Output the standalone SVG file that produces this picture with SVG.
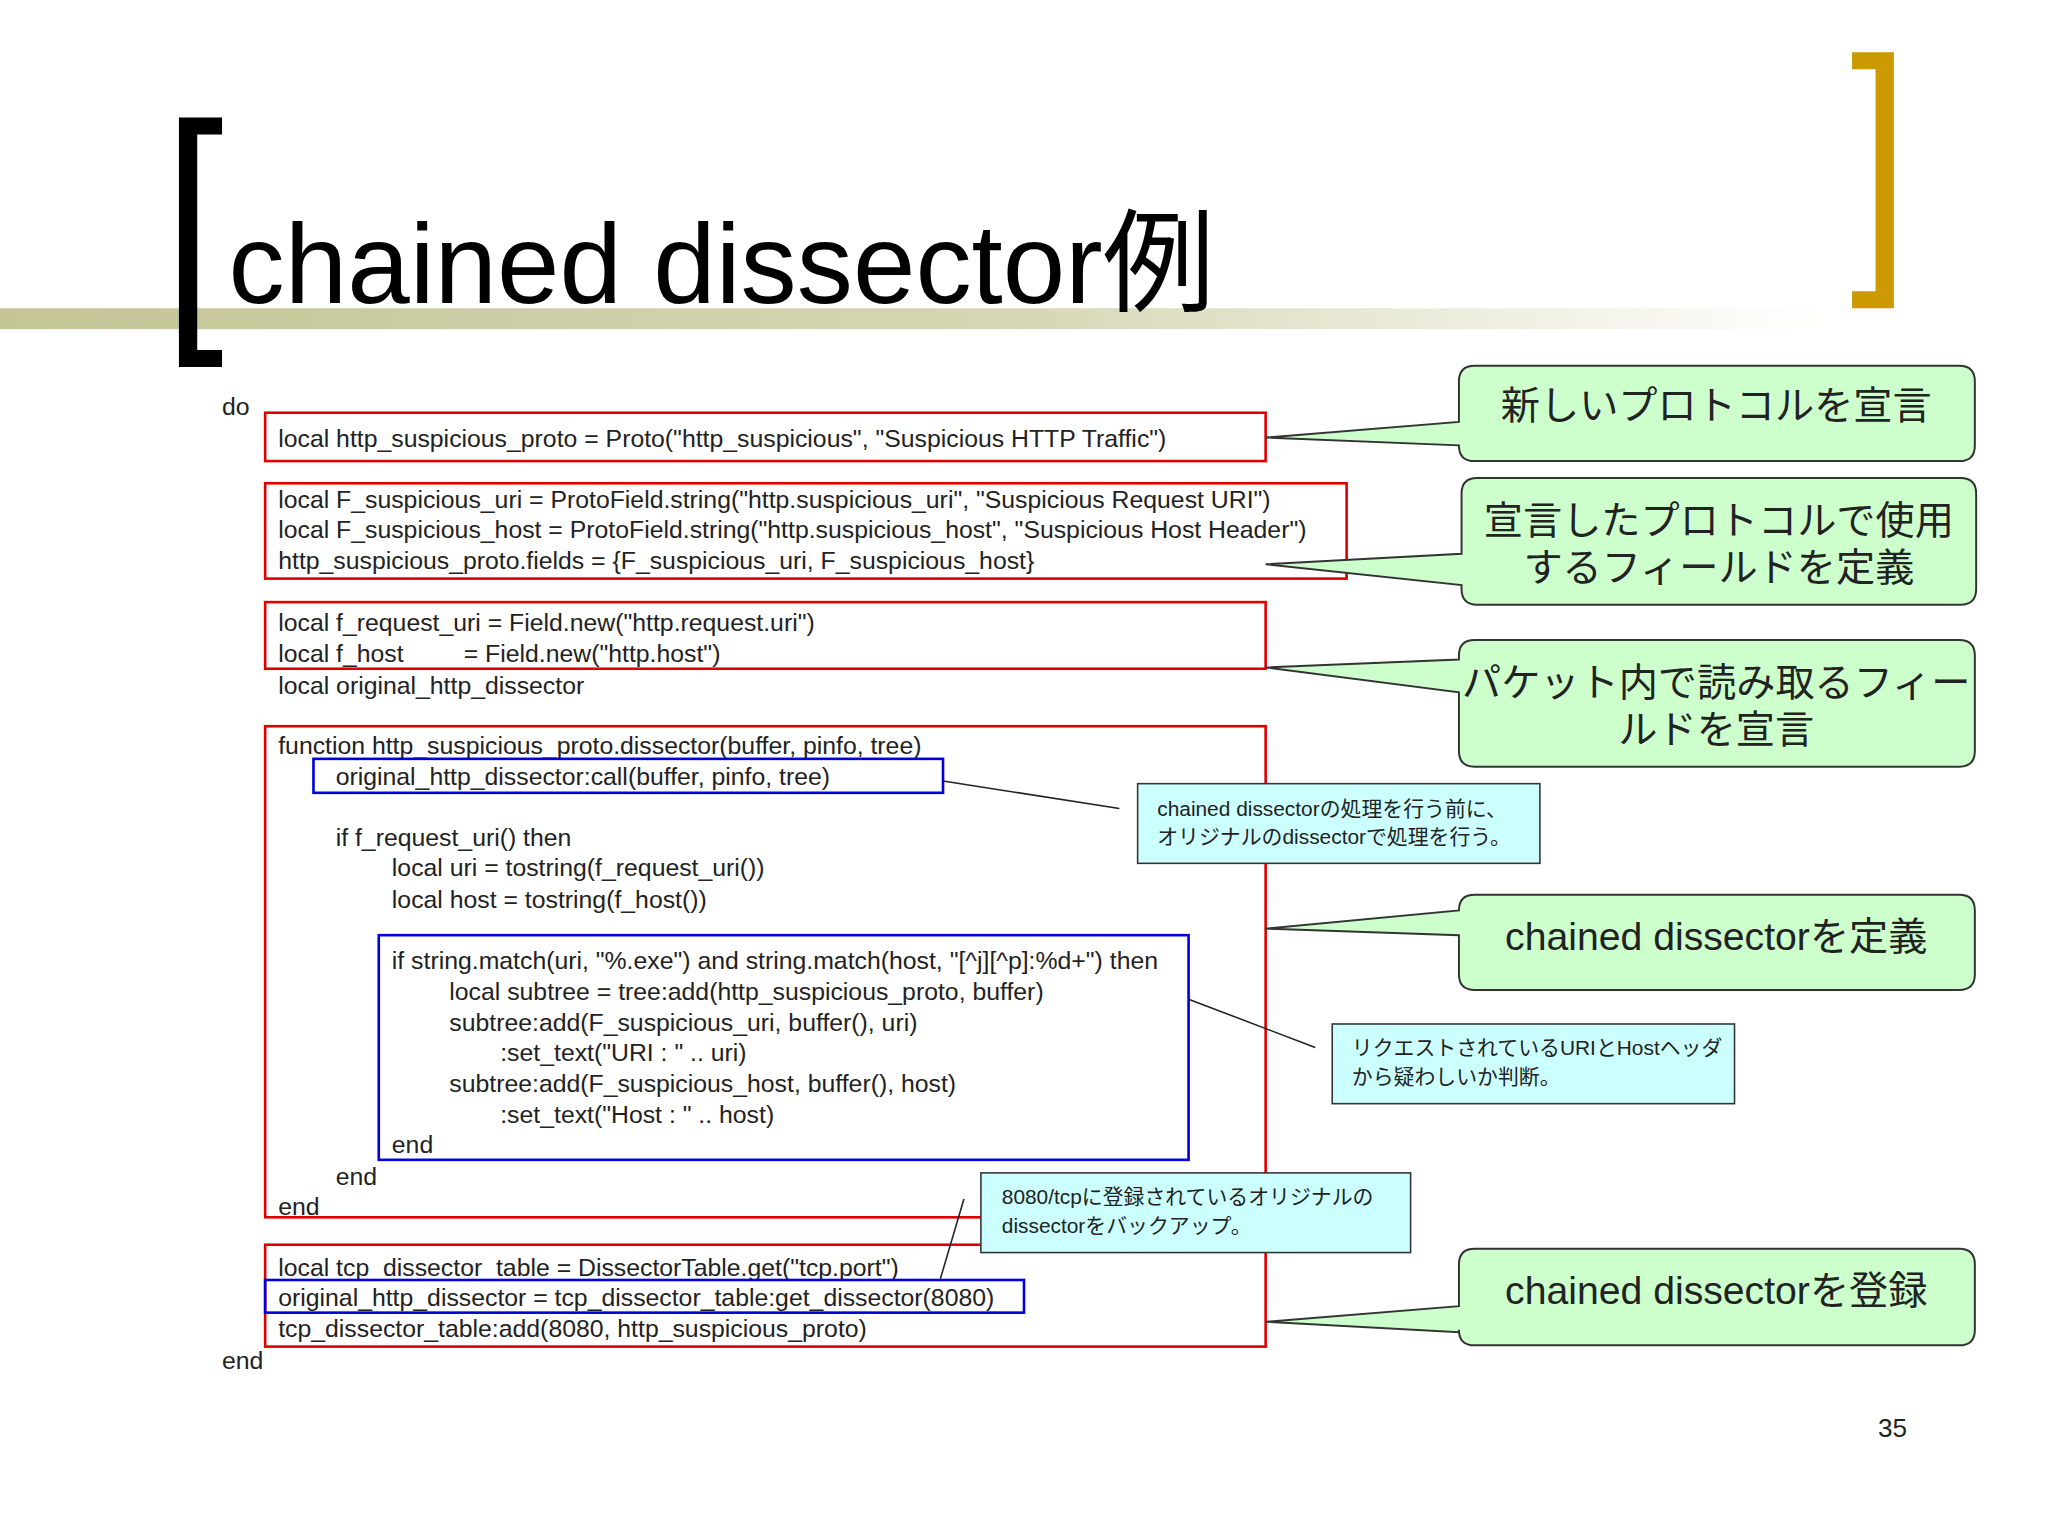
<svg xmlns="http://www.w3.org/2000/svg" width="2048" height="1536" viewBox="0 0 2048 1536">
<defs>
<linearGradient id="band" x1="0" x2="1" y1="0" y2="0"><stop offset="0" stop-color="#c4c496"/><stop offset="0.55" stop-color="#d6d6b4"/><stop offset="1" stop-color="#ffffff"/></linearGradient>
<style>
.c{font-family:"Liberation Sans",Arial,sans-serif;font-size:19px;fill:#222}
.r{fill:none;stroke:#e00000;stroke-width:2}
.b{fill:none;stroke:#0000dd;stroke-width:2}
.g{fill:#ccffcc;stroke:#333;stroke-width:1.5}
.gt{font-family:"Liberation Sans","Noto Sans CJK JP",sans-serif;font-size:30px;fill:#222;text-anchor:middle}
.n{fill:#ccffff;stroke:#333;stroke-width:1.2}
.nt{font-family:"Liberation Sans","Noto Sans CJK JP",sans-serif;font-size:16px;fill:#222}
.l{stroke:#222;stroke-width:1.2;fill:none}
</style>
</defs>
<rect width="2048" height="1536" fill="#fff"/>
<g transform="scale(1.30612)">
<rect x="0" y="236" width="1400" height="16" fill="url(#band)"/>
<path d="M137,90 H170 V103 H151 V268 H170 V281 H137 Z" fill="#000"/>
<path d="M1418,40 H1450 V236 H1418 V223 H1436 V53 H1418 Z" fill="#cc9900"/>
<text x="175" y="232" font-family="'Liberation Sans','Noto Sans CJK JP',sans-serif" font-size="86" fill="#000">chained dissector例</text>
<g id="code">
<text class="c" x="170" y="318">do</text>
<text class="c" x="213" y="342">local http_suspicious_proto = Proto("http_suspicious", "Suspicious HTTP Traffic")</text>
<text class="c" x="213" y="389">local F_suspicious_uri = ProtoField.string("http.suspicious_uri", "Suspicious Request URI")</text>
<text class="c" x="213" y="412">local F_suspicious_host = ProtoField.string("http.suspicious_host", "Suspicious Host Header")</text>
<text class="c" x="213" y="436">http_suspicious_proto.fields = {F_suspicious_uri, F_suspicious_host}</text>
<text class="c" x="213" y="483">local f_request_uri = Field.new("http.request.uri")</text>
<text class="c" x="213" y="507">local f_host</text>
<text class="c" x="355" y="507">= Field.new("http.host")</text>
<text class="c" x="213" y="531">local original_http_dissector</text>
<text class="c" x="213" y="577">function http_suspicious_proto.dissector(buffer, pinfo, tree)</text>
<text class="c" x="257" y="601">original_http_dissector:call(buffer, pinfo, tree)</text>
<text class="c" x="257" y="648">if f_request_uri() then</text>
<text class="c" x="300" y="671">local uri = tostring(f_request_uri())</text>
<text class="c" x="300" y="695">local host = tostring(f_host())</text>
<text class="c" x="300" y="742">if string.match(uri, "%.exe") and string.match(host, "[^j][^p]:%d+") then</text>
<text class="c" x="344" y="766">local subtree = tree:add(http_suspicious_proto, buffer)</text>
<text class="c" x="344" y="789">subtree:add(F_suspicious_uri, buffer(), uri)</text>
<text class="c" x="383" y="812">:set_text("URI : " .. uri)</text>
<text class="c" x="344" y="836">subtree:add(F_suspicious_host, buffer(), host)</text>
<text class="c" x="383" y="860">:set_text("Host : " .. host)</text>
<text class="c" x="300" y="883">end</text>
<text class="c" x="257" y="907">end</text>
<text class="c" x="213" y="930">end</text>
<text class="c" x="213" y="977">local tcp_dissector_table = DissectorTable.get("tcp.port")</text>
<text class="c" x="213" y="1000">original_http_dissector = tcp_dissector_table:get_dissector(8080)</text>
<text class="c" x="213" y="1024">tcp_dissector_table:add(8080, http_suspicious_proto)</text>
<text class="c" x="170" y="1048">end</text>
</g>
<g id="boxes">
<rect class="r" x="203" y="316" width="766" height="37"/>
<rect class="r" x="203" y="370" width="828" height="73"/>
<rect class="r" x="203" y="461" width="766" height="51"/>
<rect class="r" x="203" y="556" width="766" height="376"/>
<rect class="r" x="203" y="953" width="766" height="78"/>
<rect class="b" x="240" y="581" width="482" height="26"/>
<rect class="b" x="290" y="716" width="620" height="172"/>
<rect class="b" x="203" y="980" width="581" height="25"/>
</g>
<g id="connectors">
<path class="l" d="M722,598 L857,619"/>
<path class="l" d="M910,765 L1007,802"/>
<path class="l" d="M720,979 L738,918"/>
</g>
<g id="callout1">
<path class="g" d="M1129,280 H1500 Q1512,280 1512,292 V341 Q1512,353 1500,353 H1129 Q1117,353 1117,341 L969,335 L1117,323 V292 Q1117,280 1129,280 Z"/>
<text class="gt" x="1314" y="321">新しいプロトコルを宣言</text>
</g>
<g id="callout2">
<path class="g" d="M1131,366 H1501 Q1513,366 1513,378 V451 Q1513,463 1501,463 H1131 Q1119,463 1119,451 V448 L969,432 L1119,424 V378 Q1119,366 1131,366 Z"/>
<text class="gt" x="1316" y="409">宣言したプロトコルで使用</text>
<text class="gt" x="1316" y="445">するフィールドを定義</text>
</g>
<g id="callout3">
<path class="g" d="M1129,490 H1500 Q1512,490 1512,502 V575 Q1512,587 1500,587 H1129 Q1117,587 1117,575 V530 L969,511 L1117,505 V502 Q1117,490 1129,490 Z"/>
<text class="gt" x="1314" y="533">パケット内で読み取るフィー</text>
<text class="gt" x="1314" y="569">ルドを宣言</text>
</g>
<g id="callout4">
<path class="g" d="M1129,685 H1500 Q1512,685 1512,697 V746 Q1512,758 1500,758 H1129 Q1117,758 1117,746 V716 L969,711 L1117,697 Q1117,685 1129,685 Z"/>
<text class="gt" x="1314" y="727">chained dissectorを定義</text>
</g>
<g id="callout5">
<path class="g" d="M1129,956 H1500 Q1512,956 1512,968 V1018 Q1512,1030 1500,1030 H1129 Q1117,1030 1117,1018 V1020 L969,1012 L1117,1000 V968 Q1117,956 1129,956 Z"/>
<text class="gt" x="1314" y="998">chained dissectorを登録</text>
</g>
<g id="note1">
<rect class="n" x="871" y="600" width="308" height="61"/>
<text class="nt" x="886" y="625">chained dissectorの処理を行う前に、</text>
<text class="nt" x="886" y="646">オリジナルのdissectorで処理を行う。</text>
</g>
<g id="note2">
<rect class="n" x="1020" y="784" width="308" height="61"/>
<text class="nt" x="1035" y="808">リクエストされているURIとHostヘッダ</text>
<text class="nt" x="1035" y="830">から疑わしいか判断。</text>
</g>
<g id="note3">
<rect class="n" x="751" y="898" width="329" height="61"/>
<text class="nt" x="767" y="922">8080/tcpに登録されているオリジナルの</text>
<text class="nt" x="767" y="944">dissectorをバックアップ。</text>
</g>
<text x="1449" y="1100" font-family="'Liberation Sans',sans-serif" font-size="20" fill="#222" text-anchor="middle">35</text>
</g>
</svg>
